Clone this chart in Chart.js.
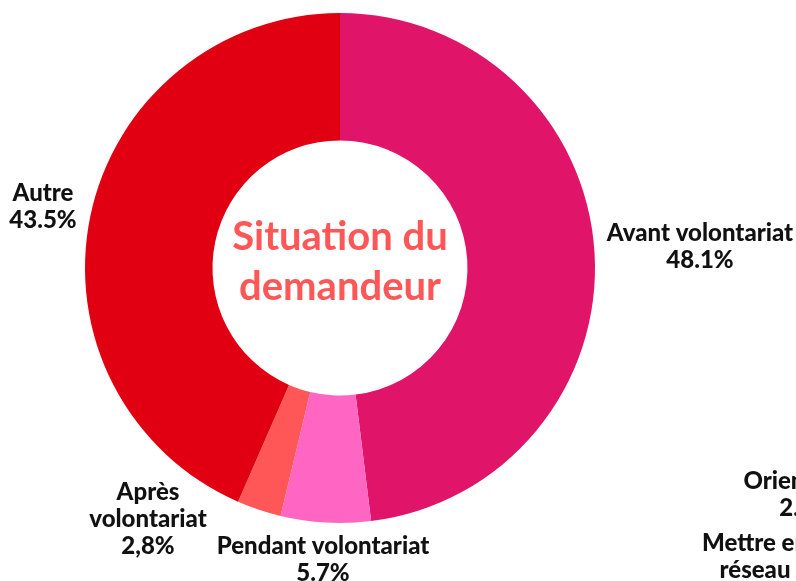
<!DOCTYPE html>
<html>
<head>
<meta charset="utf-8">
<script src="https://cdn.jsdelivr.net/npm/chart.js@4"></script>
<style>
	html, body { margin: 0; padding: 0; background: #ffffff; }
	#wrap { width: 796px; height: 581px; position: relative; }
</style>
</head>
<body>
<div id="wrap"><canvas id="chart"></canvas></div>
<script>
const categories = ['Avant volontariat', 'Pendant volontariat', 'Après volontariat', 'Autre'];
const values = [48.1, 5.7, 2.8, 43.5];
const valueLabels = ['48.1%', '5.7%', '2,8%', '43.5%'];
const labelLines = [['Avant volontariat'], ['Pendant volontariat'], ['Après', 'volontariat'], ['Autre']];
const sliceColors = ['#e0156a', '#ff66c4', '#ff5757', '#e00012'];

// labels of categories that fall outside the visible area
const offLabels = [['Orientation', '2.8%'], ['Mettre en', 'réseau', '0%']];

const centerTitle = ['Situation du', 'demandeur'];

const labelFont = '900 24px Lato, "DejaVu Sans", sans-serif';

const sliceLabels = {
	id: 'sliceLabels',
	afterDraw(chart, args, opts) {
		const ctx = chart.ctx;
		ctx.save();
		ctx.fillStyle = '#111111';
		ctx.font = labelFont;
		ctx.textAlign = 'center';
		ctx.textBaseline = 'middle';

		opts.positions.forEach((p, i) => {
			const lines = labelLines[i].concat([valueLabels[i]]);
			lines.forEach((line, j) => {
				ctx.fillText(line, p.x, p.y + j * opts.lineHeight);
			});
		});

		opts.offPositions.forEach((p, i) => {
			offLabels[i].forEach((line, j) => {
				ctx.fillText(line, p.x, p.y + j * opts.lineHeight);
			});
		});

		// title in the hole
		const meta = chart.getDatasetMeta(0).data[0];
		ctx.fillStyle = '#ff5757';
		ctx.font = 'bold 40px Lato, "DejaVu Sans", sans-serif';
		centerTitle.forEach((line, j) => {
			ctx.fillText(line, meta.x, meta.y - 31 + j * 50);
		});
		ctx.restore();
	}
};

new Chart(document.getElementById('chart'), {
	type: 'doughnut',
	data: {
		labels: categories,
		datasets: [
			{
				data: values,
				backgroundColor: sliceColors,
				borderWidth: 0,
			}
		]
	},
	options: {
		responsive: true,
		maintainAspectRatio: false,
		animation: false,
		cutout: '50%',
		layout: {
			padding: { top: 13, bottom: 58, left: 85, right: 201 },
		},
		plugins: {
			legend: { display: false },
			tooltip: { enabled: false },
			sliceLabels: {
				lineHeight: 27,
				positions: [
					{ x: 700, y: 233 },
					{ x: 323, y: 546 },
					{ x: 148, y: 492 },
					{ x: 43, y: 193 },
				],
				offPositions: [
					{ x: 806, y: 481 },
					{ x: 755, y: 543 },
				],
			},
		}
	},
	plugins: [sliceLabels]
});
</script>
</body>
</html>
